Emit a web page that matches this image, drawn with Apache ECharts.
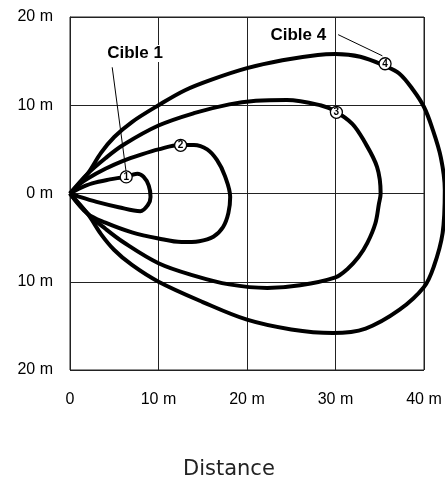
<!DOCTYPE html>
<html>
<head>
<meta charset="utf-8">
<script src="https://cdn.jsdelivr.net/npm/echarts@6/dist/echarts.min.js"></script>
<style>
  html, body { margin: 0; padding: 0; background: #fff; }
  #chart { width: 445px; height: 481px; }
</style>
</head>
<body>
<div id="chart"></div>
<script>
// tick labels (y read top to bottom, no minus sign in the original)
const xTickLabels = ['0', '10 m', '20 m', '30 m', '40 m'];
const yTickLabels = ['20 m', '10 m', '0 m', '10 m', '20 m'];

// detection zones, [distance, lateral] in metres
const cible1 = [[0,0],[1,0.55],[2.5,1.15],[4.5,1.6],[6.3,1.9],[7.6,2.25],[8.3,1.9],[8.9,0.9],[9.1,-0.4],[8.8,-1.3],[7.95,-2.0],[5.5,-1.55],[3,-0.95],[1,-0.35],[0,0]];
const cible2 = [[0,0],[1,1.0],[2,1.7],[4,2.8],[6,3.7],[8,4.4],[10,5.0],[12.4,5.5],[14,5.5],[15.5,5.0],[16.6,3.8],[17.5,2.0],[18.1,-0.4],[17.9,-2.2],[17.3,-3.8],[16.2,-4.9],[14.6,-5.4],[12.6,-5.5],[10,-5.1],[7,-4.4],[4,-3.3],[2,-2.3],[0,0]];
const cible3 = [[0,0],[2,2.25],[4,4.0],[6,5.5],[10,7.7],[14,9.1],[18,10.1],[21,10.5],[24.5,10.6],[28.3,10.0],[30,9.3],[31.9,7.9],[33.2,6.0],[34.7,3.0],[35.1,0],[34.9,-1.2],[34.5,-3.4],[33.6,-5.6],[32.6,-7.2],[31.3,-8.6],[30,-9.5],[26,-10.4],[22.3,-10.7],[18,-10.3],[14,-9.3],[10,-7.9],[6,-5.5],[4,-4.0],[2,-2.3],[0,0]];
const cible4 = [[0,0],[2,2.25],[3.5,4.6],[5,6.4],[7,8.1],[10,10],[13,11.7],[16,12.9],[20,14.2],[24,15.1],[28,15.7],[30,15.8],[32.8,15.5],[35.5,14.5],[37.2,13.6],[38.8,11.7],[40,9.8],[40.9,7.5],[41.9,4.1],[42.35,0.4],[42.1,-4.5],[41.1,-8.3],[40,-10.6],[37.2,-13.2],[33.4,-15.3],[29.7,-15.8],[25,-15.4],[20,-14.3],[15,-12.3],[10,-10],[7,-8.1],[5,-6.4],[3.5,-4.6],[2,-2.3],[0,0]];

// numbered markers on each curve
const markerPoints = [[6.35,1.88,'1'],[12.5,5.46,'2'],[30.1,9.2,'3'],[35.6,14.7,'4']];

// callouts
const calloutNames = ['Cible 1', 'Cible 4'];
const calloutTextAt = [[7.35,15.85],[25.8,17.9]];
const calloutLines = [
  [[4.77,14.3],[6.33,2.52]],
  [[30.3,18.0],[35.3,15.6]]
];

const W = 445, GRID_LEFT = 70, GRID_RIGHT = 21;
// second, invisible grid runs to the right edge so the outer curve can pass 40 m
const overflowMax = 40 * (W - GRID_LEFT) / (W - GRID_LEFT - GRID_RIGHT);

const axisFont = { fontFamily: '"Liberation Sans", Arial, sans-serif', fontSize: 16, color: '#000' };
const gridLine = { color: '#222', width: 1 };

let myChart = null;

const curveSeries = (name, data) => ({
  name: name,
  type: 'line',
  xAxisIndex: 1,
  yAxisIndex: 1,
  data: data,
  smooth: 0.35,
  showSymbol: false,
  symbol: 'none',
  clip: false,
  lineStyle: { color: '#000', width: 4 },
  z: 3
});

const init = () => {
  myChart = echarts.init(document.getElementById('chart'), null, { renderer: 'canvas' });
  const option = {
    animation: false,
    title: {
      text: 'Distance',
      left: 183,
      top: 459,
      padding: 0,
      textStyle: { fontFamily: '"DejaVu Sans", sans-serif', fontSize: 21, fontWeight: 'normal', color: '#222' }
    },
    grid: [
      { left: GRID_LEFT, right: GRID_RIGHT, top: 17, bottom: 111, show: true, borderColor: '#222', borderWidth: 1 },
      { left: GRID_LEFT, right: 0, top: 17, bottom: 111 }
    ],
    xAxis: [{
      type: 'value',
      gridIndex: 0,
      min: 0,
      max: 40,
      interval: 10,
      axisLine: { show: true, lineStyle: gridLine },
      axisTick: { show: false },
      splitLine: { show: true, lineStyle: gridLine },
      axisLabel: Object.assign({ margin: 22, formatter: v => xTickLabels[Math.round(v / 10)] }, axisFont)
    }, {
      type: 'value',
      gridIndex: 1,
      min: 0,
      max: overflowMax,
      show: false
    }],
    yAxis: [{
      type: 'value',
      gridIndex: 0,
      min: -20,
      max: 20,
      interval: 10,
      axisLine: { show: true, lineStyle: gridLine },
      axisTick: { show: false },
      splitLine: { show: true, lineStyle: gridLine },
      axisLabel: Object.assign({ margin: 17, formatter: v => yTickLabels[Math.round((20 - v) / 10)] }, axisFont)
    }, {
      type: 'value',
      gridIndex: 1,
      min: -20,
      max: 20,
      show: false
    }],
    series: [
      curveSeries('Cible 1', cible1),
      curveSeries('Cible 2', cible2),
      curveSeries('Cible 3', cible3),
      curveSeries('Cible 4', cible4),
      ...calloutLines.map((seg, i) => ({
        name: 'leader ' + i,
        type: 'line',
        xAxisIndex: 1,
        yAxisIndex: 1,
        data: seg,
        symbol: 'none',
        clip: false,
        lineStyle: { color: '#000', width: 1 },
        z: 2
      })),
      {
        name: 'markers',
        type: 'scatter',
        xAxisIndex: 1,
        yAxisIndex: 1,
        data: markerPoints,
        symbol: 'circle',
        symbolSize: 12,
        clip: false,
        itemStyle: { color: '#fff', borderColor: '#000', borderWidth: 1.3, opacity: 1 },
        label: {
          show: true,
          position: 'inside',
          formatter: p => p.data[2],
          fontFamily: '"Liberation Sans", Arial, sans-serif',
          fontWeight: 'bold',
          fontSize: 10,
          color: '#000',
          textBorderWidth: 0
        },
        z: 5
      },
      {
        name: 'callouts',
        type: 'scatter',
        xAxisIndex: 1,
        yAxisIndex: 1,
        data: calloutTextAt.map((p, i) => [p[0], p[1], calloutNames[i]]),
        symbol: 'circle',
        symbolSize: 1,
        clip: false,
        itemStyle: { color: 'rgba(0,0,0,0)', opacity: 1 },
        label: {
          show: true,
          position: 'inside',
          formatter: p => p.data[2],
          fontFamily: '"Liberation Sans", Arial, sans-serif',
          fontWeight: 'bold',
          fontSize: 17,
          color: '#000',
          textBorderWidth: 0,
          backgroundColor: '#fff',
          padding: [0, 2]
        },
        z: 6
      }
    ]
  };
  myChart.setOption(option);
};

init();
</script>
</body>
</html>
